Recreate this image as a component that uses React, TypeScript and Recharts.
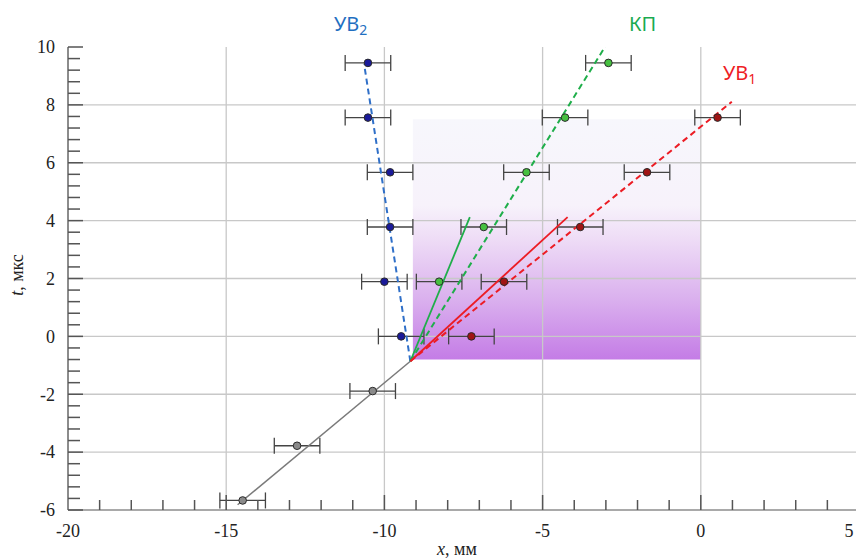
import React from "react";
import {
  ComposedChart,
  XAxis,
  YAxis,
  Scatter,
  ErrorBar,
  ReferenceArea,
  ReferenceLine,
} from "recharts";

// measured points, x in mm, t in µs
const uv2X = [-9.47, -10.0, -9.82, -9.82, -10.52, -10.52];
const uv2T = [0, 1.89, 3.78, 5.67, 7.56, 9.45];
const kpX = [-8.27, -6.86, -5.51, -4.29, -2.92];
const kpT = [1.89, 3.78, 5.67, 7.56, 9.45];
const uv1X = [-7.25, -6.22, -3.81, -1.7, 0.53];
const uv1T = [0, 1.89, 3.78, 5.67, 7.56];
const preX = [-14.48, -12.76, -10.37];
const preT = [-5.67, -3.78, -1.89];
const xErr = 0.72;

// fitted lines (start/end points)
const preLineX = [-14.64, -9.18];
const preLineT = [-5.82, -0.86];
const uv2FitX = [-9.18, -10.64];
const uv2FitT = [-0.86, 9.4];
const kpFitX = [-9.18, -2.99];
const kpFitT = [-0.86, 10.07];
const uv1FitX = [-9.18, 0.98];
const uv1FitT = [-0.86, 8.11];
const kpSolidX = [-9.18, -7.3];
const kpSolidT = [-0.86, 4.12];
const uv1SolidX = [-9.18, -4.21];
const uv1SolidT = [-0.86, 4.12];

// shaded region
const regionX = [-9.1, 0];
const regionT = [-0.8, 7.5];

const xGrid = [-15, -10, -5, 0];
const tGrid = [-4, -2, 0, 2, 4, 6, 8];
const xTicks = Array.from({ length: 26 }, (_, i) => i - 20);
const tTicks = Array.from({ length: 41 }, (_, i) => Math.round((-6 + i * 0.4) * 10) / 10);

const zip = (xs: number[], ts: number[]) =>
  xs.map((x, i) => ({ x, t: ts[i], ex: xErr }));

const SERIF = "'Liberation Serif', 'Times New Roman', serif";
const SANS = "'Noto Sans', 'Open Sans', sans-serif";

function XTick(props: any) {
  const { x, y, payload } = props;
  const v = payload.value as number;
  const major = v % 5 === 0;
  return (
    <g>
      {v !== -20 && (
        <line x1={x} x2={x} y1={y} y2={y - (major ? 15 : 10)} stroke="#555" strokeWidth={1.5} />
      )}
      {major && (
        <text x={v === 5 ? x - 10 : x} y={y + 27} textAnchor="middle" fontFamily={SERIF} fontSize={18} fill="#222">
          {v}
        </text>
      )}
    </g>
  );
}

function YTick(props: any) {
  const { x, y, payload } = props;
  const v = payload.value as number;
  const major = Math.abs(v % 2) < 1e-6;
  return (
    <g>
      <line x1={x} x2={x + (major ? 15 : 12)} y1={y} y2={y} stroke="#555" strokeWidth={1.5} />
      {major && (
        <text x={55} y={y} dy="0.35em" textAnchor="end" fontFamily={SERIF} fontSize={18} fill="#222">
          {v}
        </text>
      )}
    </g>
  );
}

const dot = (fill: string) => (p: any) =>
  <circle cx={p.cx} cy={p.cy} r={3.8} fill={fill} stroke="#2a2a2a" strokeWidth={1} />;
const none = () => <g />;

export default function App() {
  return (
    <div
      style={{
        position: "absolute",
        left: 0,
        top: 0,
        width: 856,
        height: 558,
        overflow: "hidden",
        background: "#fff",
      }}
    >
      <ComposedChart width={880} height={558} margin={{ top: 47, right: 21, bottom: 0, left: 0 }}>
        <defs>
          <linearGradient id="purpleFade" x1="0" y1="0" x2="0" y2="1">
            <stop offset="0" stopColor="#f7f7fc" />
            <stop offset="0.36" stopColor="#f7f2fb" />
            <stop offset="0.5" stopColor="#eedcf6" />
            <stop offset="0.75" stopColor="#dab0ee" />
            <stop offset="1" stopColor="#c47ce6" />
          </linearGradient>
        </defs>
        <XAxis
          type="number"
          dataKey="x"
          domain={[-20, 5]}
          allowDataOverflow
          ticks={xTicks}
          interval={0}
          tick={<XTick />}
          tickSize={0}
          tickMargin={0}
          tickLine={false}
          axisLine={{ stroke: "#8c8c8c", strokeWidth: 1.5 }}
          height={48}
        />
        <YAxis
          type="number"
          dataKey="t"
          domain={[-6, 10]}
          allowDataOverflow
          ticks={tTicks}
          interval={0}
          tick={<YTick />}
          tickSize={0}
          tickMargin={0}
          tickLine={false}
          axisLine={{ stroke: "#666", strokeWidth: 1.5 }}
          width={68}
        />
        <ReferenceArea
          x1={regionX[0]}
          x2={regionX[1]}
          y1={regionT[0]}
          y2={regionT[1]}
          fill="url(#purpleFade)"
          fillOpacity={1}
          stroke="none"
        />
        {xGrid.map((v) => (
          <ReferenceLine key={"gx" + v} x={v} stroke="#c8c8c8" strokeWidth={1.3} />
        ))}
        {tGrid.map((v) => (
          <ReferenceLine key={"gt" + v} y={v} stroke="#c8c8c8" strokeWidth={1.3} />
        ))}

        <Scatter data={zip(preLineX, preLineT)} line={{ stroke: "#7a7a7a", strokeWidth: 1.5 }} shape={none} isAnimationActive={false} />
        <Scatter data={zip(uv2FitX, uv2FitT)} line={{ stroke: "#2f6fc8", strokeWidth: 2, strokeDasharray: "6 4" }} shape={none} isAnimationActive={false} />
        <Scatter data={zip(kpFitX, kpFitT)} line={{ stroke: "#1fae4a", strokeWidth: 2, strokeDasharray: "6 4" }} shape={none} isAnimationActive={false} />
        <Scatter data={zip(uv1FitX, uv1FitT)} line={{ stroke: "#ec1c24", strokeWidth: 2, strokeDasharray: "6 4" }} shape={none} isAnimationActive={false} />
        <Scatter data={zip(kpSolidX, kpSolidT)} line={{ stroke: "#1fae4a", strokeWidth: 1.8 }} shape={none} isAnimationActive={false} />
        <Scatter data={zip(uv1SolidX, uv1SolidT)} line={{ stroke: "#ec1c24", strokeWidth: 1.8 }} shape={none} isAnimationActive={false} />

        <Scatter data={zip(preX, preT)} shape={dot("#8a8a8a")} isAnimationActive={false}>
          <ErrorBar dataKey="ex" direction="x" width={8} stroke="#444" strokeWidth={1.3} />
        </Scatter>
        <Scatter data={zip(uv2X, uv2T)} shape={dot("#1a1a9a")} isAnimationActive={false}>
          <ErrorBar dataKey="ex" direction="x" width={8} stroke="#444" strokeWidth={1.3} />
        </Scatter>
        <Scatter data={zip(kpX, kpT)} shape={dot("#46c040")} isAnimationActive={false}>
          <ErrorBar dataKey="ex" direction="x" width={8} stroke="#444" strokeWidth={1.3} />
        </Scatter>
        <Scatter data={zip(uv1X, uv1T)} shape={dot("#a01414")} isAnimationActive={false}>
          <ErrorBar dataKey="ex" direction="x" width={8} stroke="#444" strokeWidth={1.3} />
        </Scatter>

        <text x={334} y={31} fill="#1f6fc1" fontFamily={SANS} fontSize={20}>
          УВ<tspan fontSize={14} dy={4}>2</tspan>
        </text>
        <text x={629} y={31} fill="#1aaa50" fontFamily={SANS} fontSize={20}>
          КП
        </text>
        <text x={723} y={80} fill="#ee1c25" fontFamily={SANS} fontSize={20}>
          УВ<tspan fontSize={14} dy={4}>1</tspan>
        </text>

        <text x={457} y={555} textAnchor="middle" fontFamily={SERIF} fontSize={18} fill="#222">
          <tspan fontStyle="italic">x</tspan>, мм
        </text>
        <text transform="translate(23,275) rotate(-90)" textAnchor="middle" fontFamily={SERIF} fontSize={18} fill="#222">
          <tspan fontStyle="italic">t</tspan>, мкс
        </text>
      </ComposedChart>
    </div>
  );
}
